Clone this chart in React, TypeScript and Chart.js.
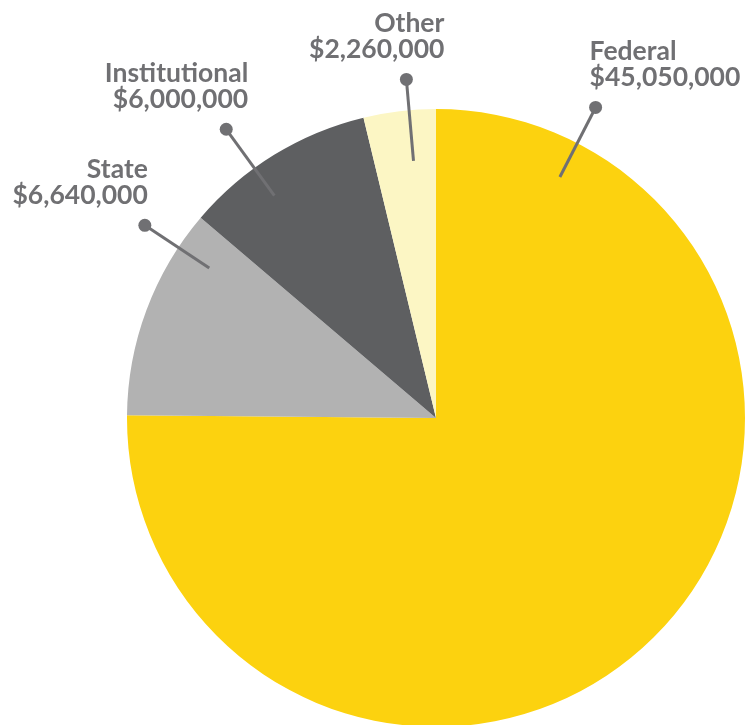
import React, { useEffect, useRef } from "react";
import { Chart, registerables } from "chart.js";

Chart.register(...registerables);

const categories = ["Federal", "State", "Institutional", "Other"];
const values = [45050000, 6640000, 6000000, 2260000];
const valueLabels = ["$45,050,000", "$6,640,000", "$6,000,000", "$2,260,000"];
const sliceColors = ["#FCD20F", "#B2B2B2", "#5E5F61", "#FCF6C4"];

// label placement: leader-line angle (deg from top, clockwise), radii (fraction of pie radius), text alignment, text x-offset from dot
const labelAngles = [27.2, -56.5, -36, -5];
const labelInner = [0.877, 0.88, 0.89, 0.835];
const labelOuter = [1.13, 1.13, 1.155, 1.1];
const labelAlign: CanvasTextAlign[] = ["left", "right", "right", "right"];
const labelDx = [-6, 3, 22, 38];

const labelPlugin = {
  id: "leaderLabels",
  afterDatasetsDraw(chart: any) {
    const ctx = chart.ctx;
    const meta = chart.getDatasetMeta(0);
    const arc0 = meta.data[0];
    if (!arc0) return;
    const { x: cx, y: cy, outerRadius: R } = arc0.getProps(["x", "y", "outerRadius"], true);
    const grey = "#707073";
    ctx.save();
    categories.forEach((name, i) => {
      const a = (labelAngles[i] * Math.PI) / 180;
      const r1 = R * labelInner[i];
      const r2 = R * labelOuter[i];
      const x1 = cx + Math.sin(a) * r1;
      const y1 = cy - Math.cos(a) * r1;
      const x2 = cx + Math.sin(a) * r2;
      const y2 = cy - Math.cos(a) * r2;
      ctx.strokeStyle = grey;
      ctx.lineWidth = 3;
      ctx.beginPath();
      ctx.moveTo(x1, y1);
      ctx.lineTo(x2, y2);
      ctx.stroke();
      ctx.fillStyle = grey;
      ctx.beginPath();
      ctx.arc(x2, y2, 6.5, 0, Math.PI * 2);
      ctx.fill();
      ctx.font = "bold 26.5px Lato";
      ctx.textAlign = labelAlign[i];
      ctx.textBaseline = "alphabetic";
      const tx = x2 + labelDx[i];
      ctx.fillText(name, tx, y2 - 47);
      ctx.fillText(valueLabels[i], tx, y2 - 21);
    });
    ctx.restore();
  },
};

export default function App() {
  const ref = useRef<HTMLCanvasElement>(null);
  useEffect(() => {
    if (!ref.current) return;
    const chart = new Chart(ref.current, {
      type: "pie",
      data: {
        labels: categories,
        datasets: [
          {
            data: values,
            backgroundColor: sliceColors,
            borderWidth: 0,
          },
        ],
      },
      options: {
        responsive: false,
        animation: false,
        layout: { padding: { left: 127, right: 10, top: 109, bottom: 13 } },
        plugins: {
          legend: { display: false },
          tooltip: { enabled: false },
        },
      },
      plugins: [labelPlugin],
    });
    return () => chart.destroy();
  }, []);
  return (
    <div style={{ position: "absolute", left: 0, top: 0, width: 755, height: 725, overflow: "hidden", background: "#fff" }}>
      <canvas ref={ref} width={755} height={740} style={{ display: "block" }} />
    </div>
  );
}
